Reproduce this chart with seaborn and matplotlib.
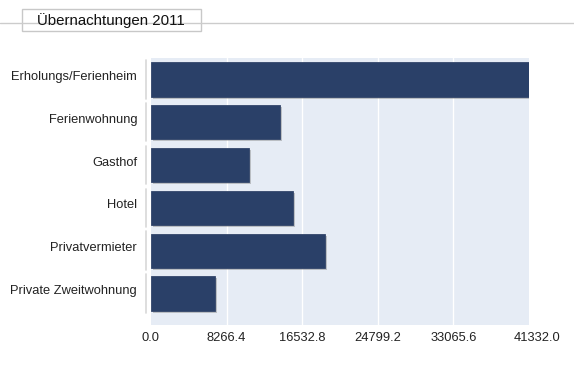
import matplotlib
matplotlib.use("Agg")
import matplotlib.pyplot as plt
import matplotlib.patheffects as pe
from matplotlib.lines import Line2D
from matplotlib.patches import Rectangle
import matplotlib.transforms as mtransforms
import numpy as np
import pandas as pd
import seaborn as sns

# Overnight stays by accommodation type, 2011
categories = ["Erholungs/Ferienheim", "Ferienwohnung", "Gasthof", "Hotel",
              "Privatvermieter", "Private Zweitwohnung"]
stays = [41332, 14150, 10700, 15550, 19000, 7000]
axis_max = 41332.0
title = "Übernachtungen 2011"

sns.set_theme(style="white")
plt.rcParams["font.family"] = ["Liberation Sans", "DejaVu Sans"]

W, H = 574, 387
fig = plt.figure(figsize=(W / 100, H / 100), dpi=100)
ax = fig.add_axes([151 / W, 1 - 325 / H, (529 - 151) / W, (325 - 58) / H])
ax.set_facecolor("#e6ecf5")

df = pd.DataFrame({"category": categories, "stays": stays})
sns.barplot(data=df, x="stays", y="category", orient="h", color="#2a4068",
            saturation=1, width=0.8, ax=ax, zorder=3)
for bar in ax.patches:
    bar.set_path_effects([pe.SimplePatchShadow(offset=(1.5, -1.5), shadow_rgbFace="#7a7a7a", alpha=0.4),
                          pe.Normal()])
    bar.set_edgecolor("#33466a")
    bar.set_linewidth(0.6)

ticks = np.linspace(0, axis_max, 6)
ax.set_xlim(0, axis_max)
ax.set_xticks(ticks)
ax.set_xticklabels([f"{t:.1f}" for t in ticks], fontsize=9.3, color="#222222")
ax.set_ylim(5.736, -0.5)
ax.tick_params(axis="y", labelsize=9.3, colors="#222222", pad=10, length=0)
ax.tick_params(axis="x", pad=5, length=0)
ax.set_xlabel("")
ax.set_ylabel("")
for s in ax.spines.values():
    s.set_visible(False)

# vertical white grid lines
for t in ticks[1:-1]:
    ax.axvline(t, color="white", lw=1.0, zorder=1)

# light separator segments beside each category
trans = mtransforms.blended_transform_factory(ax.transAxes, ax.transData)
for i in range(len(categories)):
    ax.plot([-0.013, -0.013], [i - 0.45, i + 0.45], color="#d8d8d8", lw=1.2,
            transform=trans, clip_on=False)

# category labels sit a little above the bar centres
lift = mtransforms.ScaledTranslation(0, 4 / 100, fig.dpi_scale_trans)
for lab in ax.get_yticklabels():
    lab.set_transform(lab.get_transform() + lift)

# nudge the last tick label to the right
last = ax.get_xticklabels()[-1]
last.set_transform(last.get_transform() + mtransforms.ScaledTranslation(8 / 100, 0, fig.dpi_scale_trans))

# title box on a horizontal rule
fig.add_artist(Line2D([0, 1], [1 - 22.5 / H] * 2, color="#cccccc", lw=1, transform=fig.transFigure))
fig.add_artist(Rectangle((22 / W, 1 - 31 / H), (201 - 22) / W, 22 / H, transform=fig.transFigure,
                         facecolor="white", edgecolor="#c8c8c8", lw=1))
fig.text(111 / W, 1 - 20.5 / H, title, ha="center", va="center", fontsize=10.8, color="#111111")

fig.savefig("out.png", dpi=100)
